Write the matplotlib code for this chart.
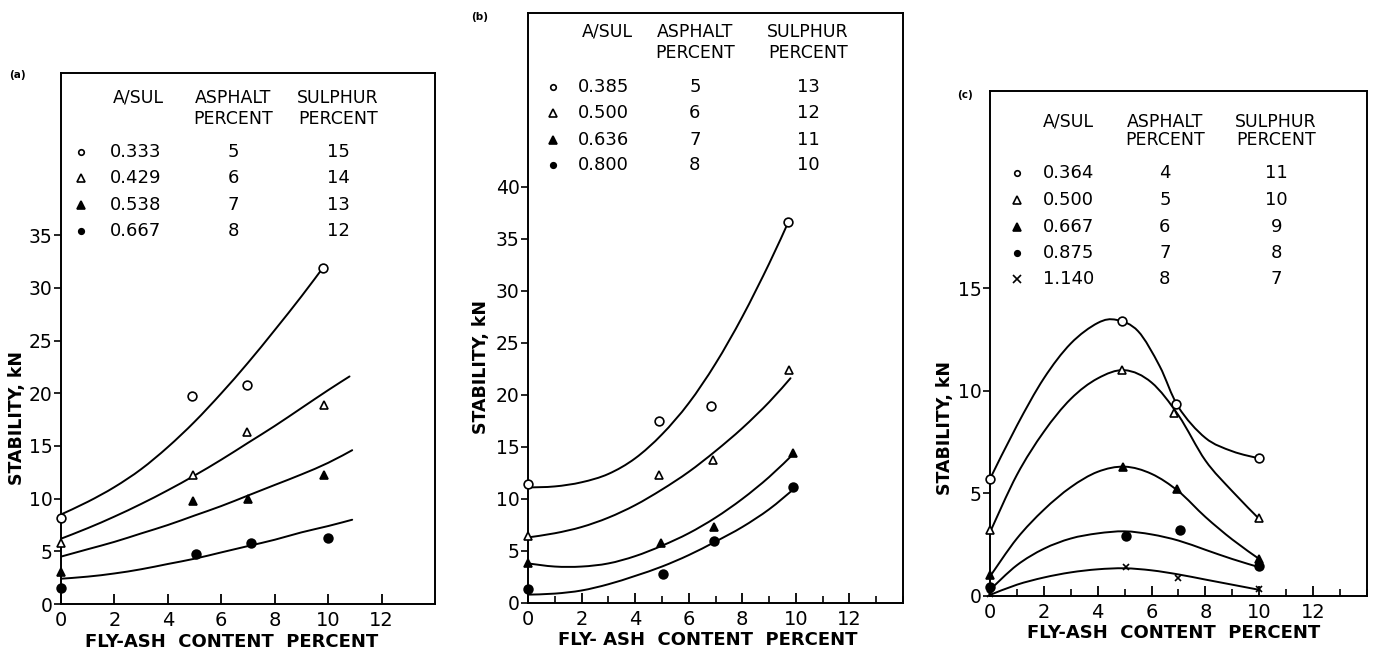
"""
Marshall stability vs fly-ash content, three sulphur-asphalt mixes (a), (b), (c).
Re-drawn from the scanned figure; points and smooth curves read off the picture.
"""

import matplotlib
matplotlib.use("Agg")
import matplotlib.pyplot as plt
from matplotlib.path import Path
from matplotlib.patches import PathPatch
from matplotlib.ticker import MultipleLocator

# ── Panel (a) ──────────────────────────────────────────────────────────────────
A_RATIO    = ["0.333", "0.429", "0.538", "0.667"]
A_ASPHALT  = ["5", "6", "7", "8"]
A_SULPHUR  = ["15", "14", "13", "12"]

A_PTS_X = [[0, 4.9, 6.95, 9.8],
           [0, 4.95, 6.95, 9.85],
           [0, 4.95, 7.0, 9.85],
           [0, 5.05, 7.1, 10.0]]
A_PTS_Y = [[8.2, 19.7, 20.8, 31.9],
           [5.8, 12.2, 16.3, 18.9],
           [3.0, 9.8, 10.0, 12.2],
           [1.5, 4.75, 5.8, 6.3]]

A_CURVE_X = [[0, 1, 2, 3, 4, 5, 6, 7, 8, 9, 9.8],
             [0, 1, 2, 3, 4, 5, 6, 7, 8, 9, 10, 10.8],
             [0, 1, 2, 3, 4, 5, 6, 7, 8, 9, 10, 10.9],
             [0, 1, 2, 3, 4, 5, 6, 7, 8, 9, 10, 10.9]]
A_CURVE_Y = [[8.5, 9.7, 11.1, 12.8, 14.9, 17.3, 20.0, 22.9, 26.0, 29.2, 31.9],
             [6.2, 7.2, 8.3, 9.5, 10.8, 12.2, 13.7, 15.3, 16.9, 18.6, 20.3, 21.6],
             [4.5, 5.2, 5.9, 6.7, 7.5, 8.4, 9.3, 10.3, 11.3, 12.3, 13.4, 14.6],
             [2.4, 2.6, 2.9, 3.3, 3.8, 4.3, 4.9, 5.5, 6.1, 6.8, 7.4, 8.0]]

# ── Panel (b) ──────────────────────────────────────────────────────────────────
B_RATIO    = ["0.385", "0.500", "0.636", "0.800"]
B_ASPHALT  = ["5", "6", "7", "8"]
B_SULPHUR  = ["13", "12", "11", "10"]

B_PTS_X = [[0, 4.9, 6.85, 9.7],
           [0, 4.9, 6.9, 9.75],
           [0, 4.95, 6.95, 9.9],
           [0, 5.05, 6.95, 9.9]]
B_PTS_Y = [[11.4, 17.5, 18.9, 36.6],
           [6.4, 12.3, 13.7, 22.4],
           [3.8, 5.8, 7.3, 14.4],
           [1.3, 2.8, 6.0, 11.1]]

B_CURVE_X = [[0, 1, 2, 3, 4, 5, 6, 7, 8, 9, 9.7],
             [0, 1, 2, 3, 4, 5, 6, 7, 8, 9, 9.8],
             [0, 1, 2, 3, 4, 5, 6, 7, 8, 9, 9.9],
             [0, 1, 2, 3, 4, 5, 6, 7, 8, 9, 9.9]]
B_CURVE_Y = [[11.1, 11.2, 11.6, 12.4, 13.9, 16.2, 19.2, 23.0, 27.5, 32.6, 36.5],
             [6.3, 6.7, 7.3, 8.2, 9.4, 10.9, 12.6, 14.6, 16.8, 19.3, 21.6],
             [3.8, 3.5, 3.5, 3.8, 4.5, 5.5, 6.7, 8.2, 10.0, 12.1, 14.3],
             [0.8, 0.9, 1.2, 1.8, 2.6, 3.5, 4.6, 5.9, 7.3, 9.0, 10.9]]

# ── Panel (c) ──────────────────────────────────────────────────────────────────
C_RATIO    = ["0.364", "0.500", "0.667", "0.875", "1.140"]
C_ASPHALT  = ["4", "5", "6", "7", "8"]
C_SULPHUR  = ["11", "10", "9", "8", "7"]

C_PTS_X = [[0, 4.9, 6.9, 10.0],
           [0, 4.9, 6.85, 10.0],
           [0, 4.95, 6.95, 10.0],
           [0, 5.05, 7.05, 10.0],
           [0, 5.05, 7.0, 10.0]]
C_PTS_Y = [[5.7, 13.4, 9.35, 6.7],
           [3.2, 11.0, 8.9, 3.8],
           [1.0, 6.3, 5.2, 1.8],
           [0.45, 2.9, 3.2, 1.45],
           [0.1, 1.4, 0.9, 0.35]]

C_CURVE_X = [[0, 1, 2, 3, 4, 4.7, 5.5, 6.3, 7, 8, 9, 10],
             [0, 1, 2, 3, 4, 5, 6, 7, 8, 9, 10],
             [0, 1, 2, 3, 4, 5, 6, 7, 8, 9, 10],
             [0, 1, 2, 3, 4, 5, 6, 7, 8, 9, 10],
             [0, 1, 2, 3, 4, 5, 6, 7, 8, 9, 10]]
C_CURVE_Y = [[5.7, 8.3, 10.6, 12.3, 13.3, 13.45, 12.9, 11.2, 9.2, 7.7, 7.05, 6.7],
             [3.1, 5.9, 8.0, 9.6, 10.6, 11.0, 10.4, 8.8, 6.6, 5.1, 3.75],
             [0.95, 2.8, 4.2, 5.3, 6.05, 6.3, 5.95, 5.1, 3.85, 2.75, 1.8],
             [0.3, 1.5, 2.3, 2.8, 3.05, 3.15, 3.0, 2.7, 2.25, 1.8, 1.4],
             [0.05, 0.55, 0.9, 1.15, 1.3, 1.35, 1.25, 1.05, 0.8, 0.55, 0.3]]

# marker style per series: (marker, facecolor)
MARKERS = [("o", "white"), ("^", "white"), ("^", "black"), ("o", "black"), ("x", "black")]

FONT = "DejaVu Sans"
XLABEL = "FLY-ASH  CONTENT  PERCENT"
YLABEL = "STABILITY, kN"


def smooth_curve(ax, xs, ys, lw=1.4):
    """Draw a smooth line through the read knots as a Catmull-Rom Bezier path."""
    pts = list(zip(xs, ys))
    n = len(pts)
    verts, codes = [pts[0]], [Path.MOVETO]
    for i in range(n - 1):
        p0 = pts[max(i - 1, 0)]
        p1 = pts[i]
        p2 = pts[i + 1]
        p3 = pts[min(i + 2, n - 1)]
        c1 = (p1[0] + (p2[0] - p0[0]) / 6, p1[1] + (p2[1] - p0[1]) / 6)
        c2 = (p2[0] - (p3[0] - p1[0]) / 6, p2[1] - (p3[1] - p1[1]) / 6)
        verts += [c1, c2, p2]
        codes += [Path.CURVE4] * 3
    ax.add_patch(PathPatch(Path(verts, codes), fill=False, lw=lw,
                           edgecolor="black", capstyle="round"))


def draw_panel(fig, rect, tag, tag_xy, ylim, yticks, minor_x,
               pts_x, pts_y, curve_x, curve_y, ratio, asphalt, sulphur,
               legend_cols, head_y, rows_y, ylabel_xy, xlabel_xy, xlabel):
    ax = fig.add_axes(rect)
    ax.set_xlim(0, 14)
    ax.set_ylim(*ylim)

    for cx, cy in zip(curve_x, curve_y):
        smooth_curve(ax, cx, cy)

    for k, (px, py) in enumerate(zip(pts_x, pts_y)):
        mk, fc = MARKERS[k]
        size = {"o": 6.3, "^": 5.8, "x": 5}[mk]
        ax.plot(px, py, ls="none", marker=mk, ms=size, mfc=fc, mec="black",
                mew=1.2, clip_on=False, zorder=3)

    # ticks: x inward along the bottom, y outward on the left
    ax.set_xticks([0, 2, 4, 6, 8, 10, 12])
    if minor_x:
        ax.xaxis.set_minor_locator(MultipleLocator(1))
    ax.set_yticks(yticks)
    ax.tick_params(axis="x", direction="in", length=7, width=1.3, pad=5,
                   labelsize=14)
    ax.tick_params(axis="x", which="minor", direction="in", length=5, width=1.2)
    ax.tick_params(axis="y", direction="out", length=5, width=1.2, pad=1,
                   labelsize=13.5)
    for lab in ax.get_xticklabels() + ax.get_yticklabels():
        lab.set_fontfamily(FONT)
    for sp in ax.spines.values():
        sp.set_linewidth(1.4)

    ax.set_ylabel(YLABEL, fontsize=12.5, fontweight="bold", family=FONT, va="center")
    ax.yaxis.set_label_coords(*ylabel_xy)
    ax.set_xlabel(xlabel, fontsize=13, fontweight="bold", family=FONT, va="center")
    ax.xaxis.set_label_coords(*xlabel_xy)

    # legend table in the upper part of the frame
    mx, vx, ax_col, sx, ratio_head = legend_cols
    head = dict(transform=ax.transAxes, fontsize=12.5, family=FONT, va="center")
    row = dict(transform=ax.transAxes, fontsize=13, family=FONT, va="center")
    ax.text(ratio_head, head_y[0], "A/SUL", ha="center", **head)
    ax.text(ax_col, head_y[0], "ASPHALT", ha="center", **head)
    ax.text(ax_col, head_y[1], "PERCENT", ha="center", **head)
    ax.text(sx, head_y[0], "SULPHUR", ha="center", **head)
    ax.text(sx, head_y[1], "PERCENT", ha="center", **head)
    for k, y in enumerate(rows_y):
        mk, fc = MARKERS[k]
        size = {"o": 4, "^": 5.5, "x": 5.5}[mk]
        ax.plot([mx], [y], transform=ax.transAxes, ls="none", marker=mk, ms=size,
                mfc=fc, mec="black", mew=1.2, clip_on=False)
        ax.text(vx, y, ratio[k], ha="left", **row)
        ax.text(ax_col, y, asphalt[k], ha="center", **row)
        ax.text(sx, y, sulphur[k], ha="center", **row)

    fig.text(tag_xy[0], tag_xy[1], tag, fontsize=7.5, fontweight="bold",
             family=FONT, ha="center", va="center")
    return ax


fig = plt.figure(figsize=(13.74, 6.52), dpi=100, facecolor="white")

draw_panel(fig, [0.0444, 0.0736, 0.2722, 0.8144], "(a)", (0.013, 0.885),
           (0, 50.4), [0, 5, 10, 15, 20, 25, 30, 35], False,
           A_PTS_X, A_PTS_Y, A_CURVE_X, A_CURVE_Y, A_RATIO, A_ASPHALT, A_SULPHUR,
           (0.053, 0.131, 0.46, 0.741, 0.206), (0.953, 0.913),
           [0.851, 0.802, 0.751, 0.702], (-0.117, 0.35), (0.455, -0.072), XLABEL)

draw_panel(fig, [0.3843, 0.0752, 0.2729, 0.9049], "(b)", (0.349, 0.974),
           (0, 56.7), [0, 5, 10, 15, 20, 25, 30, 35, 40], True,
           B_PTS_X, B_PTS_Y, B_CURVE_X, B_CURVE_Y, B_RATIO, B_ASPHALT, B_SULPHUR,
           (0.067, 0.133, 0.445, 0.747, 0.211), (0.968, 0.932),
           [0.875, 0.831, 0.785, 0.742], (-0.125, 0.40), (0.48, -0.063),
           "FLY- ASH  CONTENT  PERCENT")

draw_panel(fig, [0.7205, 0.0859, 0.2744, 0.7745], "(c)", (0.702, 0.854),
           (0, 24.6), [0, 5, 10, 15], True,
           C_PTS_X, C_PTS_Y, C_CURVE_X, C_CURVE_Y, C_RATIO, C_ASPHALT, C_SULPHUR,
           (0.072, 0.141, 0.464, 0.759, 0.207), (0.939, 0.903),
           [0.838, 0.784, 0.731, 0.679, 0.628], (-0.12, 0.333), (0.488, -0.073),
           XLABEL)

plt.savefig("out.png", dpi=100, facecolor=fig.get_facecolor())
plt.close(fig)
